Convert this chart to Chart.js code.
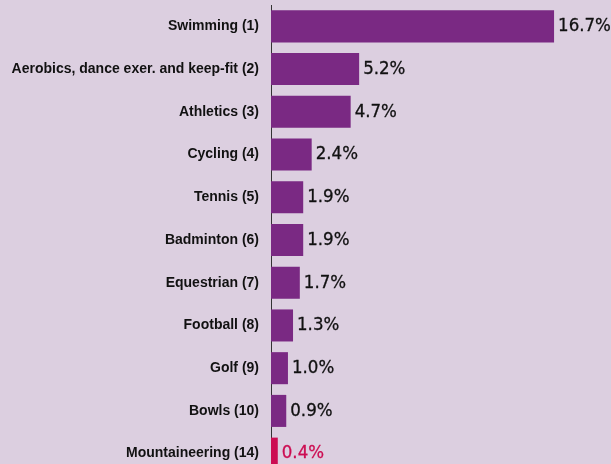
<!DOCTYPE html>
<html>
<head>
<meta charset="utf-8">
<script src="https://cdn.jsdelivr.net/npm/chart.js@4/dist/chart.umd.min.js"></script>
<style>
  html, body { margin: 0; padding: 0; background: #dccfe0; overflow: hidden; }
  #wrap { position: relative; width: 611px; height: 475px; }
</style>
</head>
<body>
<div id="wrap"><canvas id="c"></canvas></div>
<script>
const categories = [
  "Swimming (1)",
  "Aerobics, dance exer. and keep-fit (2)",
  "Athletics (3)",
  "Cycling (4)",
  "Tennis (5)",
  "Badminton (6)",
  "Equestrian (7)",
  "Football (8)",
  "Golf (9)",
  "Bowls (10)",
  "Mountaineering (14)"
];
const values = [16.7, 5.2, 4.7, 2.4, 1.9, 1.9, 1.7, 1.3, 1.0, 0.9, 0.4];
const valueLabels = ["16.7%", "5.2%", "4.7%", "2.4%", "1.9%", "1.9%", "1.7%", "1.3%", "1.0%", "0.9%", "0.4%"];
const highlighted = ["Mountaineering (14)"];

const PURPLE = "#7a2983";
const CRIMSON = "#cc0d52";
const colorFor = c => highlighted.includes(c) ? CRIMSON : PURPLE;

const valueLabelPlugin = {
  id: "valueLabels",
  afterDatasetsDraw(chart) {
    const ctx = chart.ctx;
    const meta = chart.getDatasetMeta(0);
    ctx.save();
    ctx.font = '18.5px "DejaVu Sans Condensed", "Liberation Sans", sans-serif';
    ctx.textAlign = "left";
    ctx.textBaseline = "middle";
    ctx.lineWidth = 0.3;
    ctx.lineJoin = "round";
    meta.data.forEach((bar, i) => {
      const col = highlighted.includes(categories[i]) ? CRIMSON : "#111111";
      ctx.fillStyle = col;
      ctx.strokeStyle = col;
      ctx.fillText(valueLabels[i], bar.x + 4, bar.y);
      ctx.strokeText(valueLabels[i], bar.x + 4, bar.y);
    });
    ctx.restore();
  }
};

new Chart(document.getElementById("c"), {
  type: "bar",
  data: {
    labels: categories,
    datasets: [{
      data: values,
      backgroundColor: categories.map(colorFor),
      borderWidth: 0,
      barPercentage: 0.75,
      categoryPercentage: 1.0
    }]
  },
  options: {
    indexAxis: "y",
    responsive: true,
    maintainAspectRatio: false,
    animation: false,
    layout: { padding: { top: 5, bottom: 0, left: 0, right: 1 } },
    plugins: { legend: { display: false }, tooltip: { enabled: false } },
    scales: {
      x: { display: false, min: 0, max: 20 },
      y: {
        afterFit(scale) { scale.width = 271; scale.paddingTop = 0; scale.paddingBottom = 0; },
        grid: { display: false, drawTicks: false },
        border: { display: true, color: "#333333", width: 1 },
        ticks: {
          padding: 12,
          color: "#111111",
          font: { family: '"Liberation Sans", Arial, sans-serif', size: 14, weight: "bold" }
        }
      }
    }
  },
  plugins: [valueLabelPlugin]
});
</script>
</body>
</html>
